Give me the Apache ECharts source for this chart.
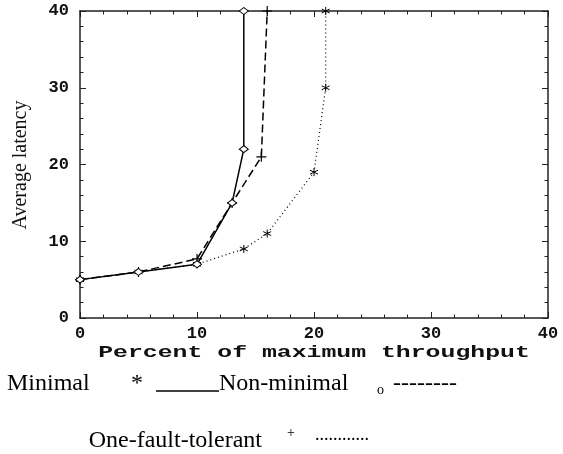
<!DOCTYPE html>
<html>
<head>
<meta charset="utf-8">
<script src="https://cdn.jsdelivr.net/npm/echarts@6/dist/echarts.min.js"></script>
<style>html,body{margin:0;padding:0;background:#fff}#c{width:563px;height:454px}</style>
</head>
<body>
<div id="c"></div>
<script>
// ---- data ----
const xTicks = [0, 10, 20, 30, 40];
const yTicks = [0, 10, 20, 30, 40];

const minimalX = [0, 5, 10, 13, 14, 14];
const minimalY = [5, 6, 7, 15, 22, 40];

const nonMinimalX = [0, 5, 10, 13, 15.5, 16];
const nonMinimalY = [5, 6, 7.7, 15, 21, 40];

const faultTolX = [0, 5, 10, 14, 16, 20, 21, 21];
const faultTolY = [5, 6, 7, 9, 11, 19, 30, 40];

const xTitle = 'Percent of maximum throughput';
const yTitle = 'Average latency';

// ---- build ----
function pairs(xs, ys) { return xs.map((x, i) => [x, ys[i]]); }

const PLUS = 'path://M0,5L10,5M5,0L5,10';
const STAR = 'path://M5,0L5,10M0.7,2.5L9.3,7.5M0.7,7.5L9.3,2.5';

const axisCommon = {
  type: 'value',
  min: xTicks[0], max: xTicks[xTicks.length - 1], interval: xTicks[1] - xTicks[0],
  axisLine: { show: true, onZero: false, lineStyle: { color: '#222', width: 1.5 } },
  axisTick: { show: true, inside: true, length: 6, lineStyle: { color: '#222', width: 1 } },
  minorTick: { show: true, splitNumber: 5, length: 3.5, lineStyle: { color: '#222', width: 1 } },
  splitLine: { show: false },
  minorSplitLine: { show: false }
};

const labelStyle = {
  color: '#111', fontFamily: 'Liberation Mono', fontWeight: 'bold', fontSize: 17
};

const chart = echarts.init(document.getElementById('c'), null, { renderer: 'canvas' });
chart.setOption({
  animation: false,
  backgroundColor: '#fff',
  grid: { left: 80, right: 15, top: 11, bottom: 136, containLabel: false },
  xAxis: [
    Object.assign({}, axisCommon, {
      position: 'bottom',
      axisLabel: Object.assign({ margin: 7 }, labelStyle)
    }),
    Object.assign({}, axisCommon, {
      position: 'top',
      axisLabel: { show: false }
    })
  ],
  yAxis: [
    Object.assign({}, axisCommon, {
      min: yTicks[0], max: yTicks[yTicks.length - 1], interval: yTicks[1] - yTicks[0],
      position: 'left',
      axisLabel: Object.assign({ margin: 11 }, labelStyle)
    }),
    Object.assign({}, axisCommon, {
      min: yTicks[0], max: yTicks[yTicks.length - 1], interval: yTicks[1] - yTicks[0],
      position: 'right',
      axisLabel: { show: false }
    })
  ],
  series: [
    {
      name: 'Minimal', type: 'line', data: pairs(minimalX, minimalY),
      lineStyle: { color: '#000', width: 1.5, type: 'solid' },
      symbol: 'diamond', symbolSize: [9, 7],
      itemStyle: { color: '#fff', borderColor: '#000', borderWidth: 1 },
      z: 3
    },
    {
      name: 'Non-minimal', type: 'line', data: pairs(nonMinimalX, nonMinimalY),
      lineStyle: { color: '#000', width: 1.5, type: [8, 4] },
      symbol: PLUS, symbolSize: 10,
      itemStyle: { color: 'none', borderColor: '#000', borderWidth: 1.2 },
      z: 2
    },
    {
      name: 'One-fault-tolerant', type: 'line', data: pairs(faultTolX, faultTolY),
      lineStyle: { color: '#000', width: 1.2, type: [1, 3] },
      symbol: STAR, symbolSize: 8,
      itemStyle: { color: 'none', borderColor: '#000', borderWidth: 1 },
      z: 2
    }
  ],
  graphic: [
    { type: 'text', x: 314, y: 353, scaleX: 1.55, scaleY: 1,
      style: { text: xTitle, fontFamily: 'Liberation Mono', fontWeight: 'bold', fontSize: 16,
               fill: '#111', align: 'center', verticalAlign: 'middle' } },
    { type: 'text', x: 21, y: 165, rotation: Math.PI / 2,
      style: { text: yTitle, fontFamily: 'Liberation Serif', fontSize: 20,
               fill: '#111', align: 'center', verticalAlign: 'middle' } },
    // legend line 1
    { type: 'text', x: 7, y: 384,
      style: { text: 'Minimal', fontFamily: 'Liberation Serif', fontSize: 24, fill: '#000', align: 'left', verticalAlign: 'middle' } },
    { type: 'text', x: 131, y: 384,
      style: { text: '*', fontFamily: 'Liberation Serif', fontSize: 24, fill: '#000', align: 'left', verticalAlign: 'middle' } },
    { type: 'line', shape: { x1: 156, y1: 391, x2: 219, y2: 391 }, style: { stroke: '#000', lineWidth: 1.5 } },
    { type: 'text', x: 219, y: 384,
      style: { text: 'Non-minimal', fontFamily: 'Liberation Serif', fontSize: 24, fill: '#000', align: 'left', verticalAlign: 'middle' } },
    { type: 'text', x: 377, y: 390,
      style: { text: 'o', fontFamily: 'Liberation Serif', fontSize: 14, fill: '#000', align: 'left', verticalAlign: 'middle' } },
    { type: 'text', x: 393, y: 384,
      style: { text: '--------', fontFamily: 'Liberation Serif', fontSize: 24, fill: '#000', align: 'left', verticalAlign: 'middle' } },
    // legend line 2
    { type: 'text', x: 262, y: 441,
      style: { text: 'One-fault-tolerant', fontFamily: 'Liberation Serif', fontSize: 24, fill: '#000', align: 'right', verticalAlign: 'middle' } },
    { type: 'text', x: 287, y: 433,
      style: { text: '+', fontFamily: 'Liberation Serif', fontSize: 14, fill: '#000', align: 'left', verticalAlign: 'middle' } },
    { type: 'text', x: 315, y: 435,
      style: { text: '............', fontFamily: 'Liberation Serif', fontSize: 18, fill: '#000', align: 'left', verticalAlign: 'middle' } }
  ]
});
</script>
</body>
</html>
